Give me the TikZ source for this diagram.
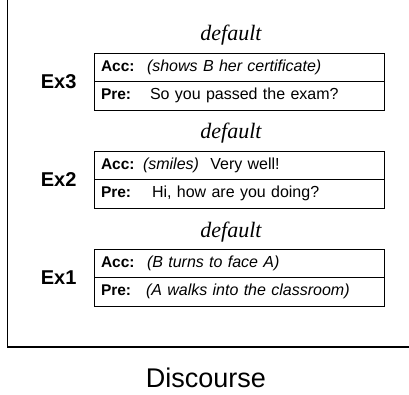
\documentclass[tikz,border=0pt]{standalone}
\usepackage{fontspec}
\setmainfont{Liberation Serif}
\setsansfont{Liberation Sans}
\usetikzlibrary{positioning}

% label of a row, then its content
\newcommand{\rowitem}[3]{\makebox[#1][l]{\fontsize{15.5}{18}\selectfont\bfseries #2}#3}

\begin{document}
\begin{tikzpicture}[x=1pt, y=-1pt,
    row/.style={draw, line width=0.8pt, outer sep=0pt, inner xsep=7pt, inner ysep=0pt,
      minimum height=28.5pt, text width=276pt, align=left,
      font=\sffamily\fontsize{16}{19}\selectfont},
    exlbl/.style={font=\sffamily\bfseries\fontsize{20}{24}\selectfont},
    dflt/.style={anchor=base, font=\itshape\fontsize{22}{26}\selectfont}]
    \useasboundingbox (0,0) rectangle (409,395);
    \foreach \n/\y/\aw/\acc/\pw/\pre in {
      3/53/46/{\textit{(shows B her certificate)}}/49/{So you passed the exam?},
      2/151/42/{\textit{(smiles)}\hspace{6pt} Very well!}/51/{Hi, how are you doing?},
      1/249/46/{\textit{(B turns to face A)}}/45/{\textit{(A walks into the classroom)}}}
    {
      \node[row, anchor=north west] (acc\n) at (94,\y) {\rowitem{\aw pt}{Acc:}{\acc}};
      \node[row, below=0pt of acc\n] (pre\n) {\rowitem{\pw pt}{Pre:}{\pre}};
      \node[exlbl, left=14pt of acc\n.south west] (ex\n) {Ex\n};
      \node[dflt] (dflt\n) at (231,\y-12) {default};
    }
    % axis of the discourse
    \coordinate (axtop) at (7.5,0);
    \coordinate (axcorner) at (7.5,347);
    \coordinate (axend) at (409,347);
    \draw[line width=1.6pt] (axtop) -- (axcorner) -- (axend);
    \node[font=\sffamily\fontsize{27}{32}\selectfont, anchor=base] (disc) at (206,387) {Discourse};
\end{tikzpicture}
\end{document}
